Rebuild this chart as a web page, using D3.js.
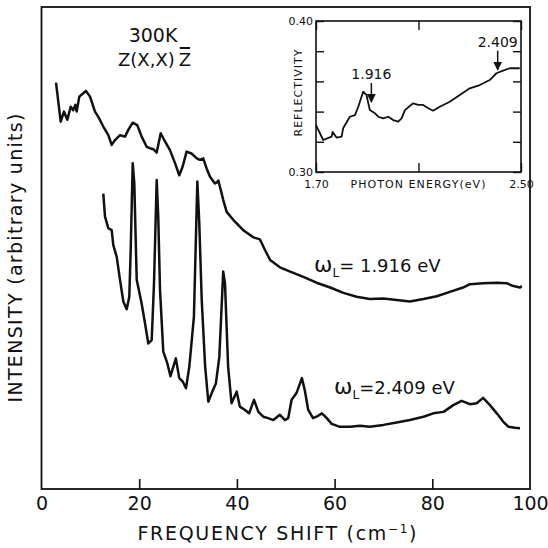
<!DOCTYPE html>
<html>
<head>
<meta charset="utf-8">
<script src="https://cdn.jsdelivr.net/npm/d3@7"></script>
<style>
  body { margin: 0; background: #fff; }
  text { font-family: "DejaVu Sans", sans-serif; fill: #111; }
</style>
</head>
<body>
<svg id="chart" width="548" height="548"></svg>
<script>
// raman spectrum, laser at 1.916 eV (upper trace)
const shiftA = [2.97, 3.93, 4.6, 5.29, 5.97, 6.5, 6.93, 7.2, 7.74, 8.56, 9.1, 9.93, 10.95, 11.63, 12.65,
  13.68, 14.37, 15.05, 16.07, 17.09, 17.77, 18.67, 19.6, 20.5, 21.53, 22.2, 22.9, 23.58, 24.4, 25.28,
  26.3, 27.33, 28.2, 28.9, 29.7, 30.7, 31.8, 32.4, 33.1, 33.8, 34.5, 35.5, 35.9, 36.2, 37.2, 37.9,
  39.3, 41.3, 43.4, 44.7, 45.75, 46.8, 48.8, 50.9, 53.6, 56.3, 59.1, 61.8, 64.5, 67.2, 70.0, 72.7,
  75.4, 78.2, 80.9, 83.6, 86.3, 87.7, 90.4, 93.2, 95.2, 96.6, 97.95, 98.3];
const intensityA = [84.3, 76.2, 78.3, 76.6, 79.3, 78.6, 79.7, 78.3, 81.4, 82.1, 82.6, 81.4, 78.3, 77.2, 75.2,
  73.4, 71.4, 72.4, 73.4, 73.1, 74.5, 76.0, 75.5, 73.1, 71.0, 70.7, 70.5, 69.8, 73.8, 72.1,
  70.3, 67.6, 65.1, 66.9, 70.0, 69.6, 68.6, 68.3, 68.6, 66.5, 64.8, 63.4, 63.6, 64.0, 60.0, 57.5,
  55.8, 53.7, 52.2, 51.8, 49.6, 47.5, 46.0, 45.1, 44.0, 42.8, 41.8, 40.7, 39.9, 39.4, 39.5, 39.2,
  38.9, 39.4, 40.0, 40.9, 41.8, 42.5, 42.7, 42.8, 42.7, 42.1, 41.8, 42.1];

// raman spectrum, laser at 2.409 eV (lower trace)
const shiftB = [12.65, 13.0, 13.68, 14.37, 14.7, 15.39, 16.07, 16.75, 17.44, 17.97, 18.26, 18.67, 19.0,
  19.49, 20.5, 21.19, 21.86, 22.56, 23.03, 23.58, 23.9, 24.26, 24.93, 25.75, 26.4, 27.5, 28.2, 28.9,
  29.58, 30.26, 31.2, 31.9, 32.3, 32.8, 33.5, 34.15, 34.84, 35.7, 36.4, 37.2, 37.56, 38.2, 38.9,
  39.96, 40.6, 41.66, 42.5, 43.5, 44.4, 45.4, 46.4, 47.45, 48.8, 49.85, 50.5, 51.2, 52.2, 53.3,
  53.9, 54.6, 55.6, 56.3, 57.4, 58.4, 59.4, 61.1, 63.2, 65.2, 67.2, 70.0, 72.7, 75.4, 78.2, 80.2,
  82.3, 84.3, 86.0, 87.7, 89.1, 90.4, 91.8, 93.2, 94.5, 95.6, 96.9, 97.95];
const intensityB = [61.3, 56.5, 54.1, 53.7, 50.6, 48.2, 43.4, 38.9, 37.3, 39.9, 49.6, 67.6, 63.4,
  43.4, 38.5, 34.4, 30.2, 30.9, 42.7, 64.1, 56.5, 41.3, 28.5, 26.1, 23.4, 27.1, 23.0, 22.3,
  20.9, 25.4, 35.7, 63.8, 55.1, 39.2, 25.4, 18.1, 19.9, 21.9, 27.4, 45.1, 42.7, 25.4, 17.8,
  20.2, 17.1, 16.4, 15.7, 18.5, 16.0, 15.0, 14.7, 14.3, 15.4, 14.3, 14.7, 18.5, 19.9, 23.0,
  20.5, 16.4, 14.7, 15.0, 15.7, 14.7, 13.5, 12.9, 12.9, 13.1, 12.9, 13.3, 13.8, 14.3, 15.0, 15.7,
  16.0, 17.4, 18.3, 17.6, 17.8, 18.9, 17.4, 15.7, 14.0, 12.9, 12.7, 12.6];

// inset: reflectivity vs photon energy
const energy = [1.70, 1.728, 1.761, 1.765, 1.78, 1.80, 1.806, 1.832, 1.852, 1.865, 1.884, 1.897, 1.910,
  1.93, 1.943, 1.962, 1.982, 2.001, 2.021, 2.034, 2.047, 2.079, 2.099, 2.118, 2.138, 2.157, 2.183,
  2.222, 2.261, 2.30, 2.339, 2.378, 2.404, 2.43, 2.456, 2.495];
const reflectivity = [0.3311, 0.3212, 0.3234, 0.3265, 0.3228, 0.3234, 0.329, 0.3366, 0.3377, 0.3432, 0.3532,
  0.351, 0.341, 0.3389, 0.3366, 0.3355, 0.3366, 0.3344, 0.3333, 0.3355, 0.341, 0.3455, 0.3444, 0.3444,
  0.3422, 0.3406, 0.3432, 0.3465, 0.351, 0.3554, 0.3576, 0.3609, 0.3654, 0.3671, 0.3687, 0.3687];

const xTicks = [0, 20, 40, 60, 80, 100];
const insetXTicks = [1.70, 2.10, 2.50];
const insetXLabels = ["1.70", "", "2.50"];
const insetYTicks = [0.30, 0.32, 0.34, 0.36, 0.38, 0.40];
const insetYLabels = ["0.30", "", "", "", "", "0.40"];
const markedEnergies = [1.916, 2.409];

var svg = d3.select("#chart");

// main frame
var x = d3.scaleLinear().domain([0, 100]).range([41.5, 530]);
var y = d3.scaleLinear().domain([0, 100]).range([489, 7]);

svg.append("rect")
    .attr("x", x(0)).attr("y", y(100))
    .attr("width", x(100) - x(0)).attr("height", y(0) - y(100))
    .attr("fill", "none").attr("stroke", "#111").attr("stroke-width", 1.8);

var xAxis = svg.append("g")
    .attr("transform", "translate(0," + y(0) + ")")
    .call(d3.axisBottom(x).tickValues(xTicks).tickSize(-10).tickPadding(8).tickFormat(d3.format("d")));
xAxis.select(".domain").remove();
xAxis.selectAll(".tick line").attr("stroke", "#111").attr("stroke-width", 1.6)
    .filter(d => d === 0 || d === 100).remove();
xAxis.selectAll(".tick text")
    .style("font-family", "DejaVu Sans, sans-serif").style("font-size", "19px").attr("fill", "#111");

// axis titles
var xt = svg.append("text")
    .attr("x", 277).attr("y", 540)
    .attr("text-anchor", "middle")
    .style("font-size", "19px")
    .attr("textLength", 279).attr("lengthAdjust", "spacing");
xt.append("tspan").text("FREQUENCY SHIFT (cm");
xt.append("tspan").attr("dy", -7).style("font-size", "12px").text("−1");
xt.append("tspan").attr("dy", 7).text(")");

svg.append("text")
    .attr("transform", "translate(22,258) rotate(-90)")
    .attr("text-anchor", "middle")
    .style("font-size", "19px")
    .attr("textLength", 289).attr("lengthAdjust", "spacing")
    .text("INTENSITY (arbitrary units)");

// spectra
var line = d3.line().x(d => x(d[0])).y(d => y(d[1]));

svg.append("path")
    .datum(d3.zip(shiftA, intensityA))
    .attr("d", line)
    .attr("fill", "none").attr("stroke", "#111").attr("stroke-width", 2.5)
    .attr("stroke-linejoin", "round");

svg.append("path")
    .datum(d3.zip(shiftB, intensityB))
    .attr("d", line)
    .attr("fill", "none").attr("stroke", "#111").attr("stroke-width", 2.5)
    .attr("stroke-linejoin", "round");

// labels in the main plot
svg.append("text").attr("x", 153).attr("y", 42).attr("text-anchor", "middle")
    .style("font-size", "19px").text("300K");

var geo = svg.append("text").attr("x", 118).attr("y", 66).style("font-size", "18px");
geo.append("tspan").text("Z(X,X)");
var zbar = geo.append("tspan").attr("dx", 4).text("Z");
var zb = zbar.node().getExtentOfChar(0);
svg.append("line")
    .attr("x1", zb.x + 1).attr("x2", zb.x + zb.width - 1)
    .attr("y1", zb.y - 1).attr("y2", zb.y - 1)
    .attr("stroke", "#111").attr("stroke-width", 2);

function laserLabel(px, py, text) {
    var t = svg.append("text").attr("x", px).attr("y", py).style("font-size", "18px");
    t.append("tspan").style("font-size", "22px").text("ω");
    t.append("tspan").attr("dy", 5).style("font-size", "12px").text("L");
    t.append("tspan").attr("dy", -5).text(text);
}
laserLabel(314, 272, "= " + markedEnergies[0].toFixed(3) + " eV");
laserLabel(334, 394, "=" + markedEnergies[1].toFixed(3) + " eV");

// inset
var ix = d3.scaleLinear().domain([1.70, 2.50]).range([316, 521]);
var iy = d3.scaleLinear().domain([0.30, 0.40]).range([172, 21]);

svg.append("rect")
    .attr("x", ix(1.70)).attr("y", iy(0.40))
    .attr("width", ix(2.50) - ix(1.70)).attr("height", iy(0.30) - iy(0.40))
    .attr("fill", "#fff").attr("stroke", "#111").attr("stroke-width", 1.6);

function insetAxis(g) {
    g.select(".domain").remove();
    g.selectAll(".tick line").attr("stroke", "#111").attr("stroke-width", 1.4);
    g.selectAll(".tick text").style("font-family", "DejaVu Sans, sans-serif").style("font-size", "11px").attr("fill", "#111");
}

svg.append("g").attr("transform", "translate(0," + iy(0.30) + ")")
    .call(d3.axisBottom(ix).tickValues(insetXTicks).tickSize(-9).tickPadding(8).tickFormat((d, i) => insetXLabels[i]))
    .call(insetAxis);
svg.append("g").attr("transform", "translate(0," + iy(0.40) + ")")
    .call(d3.axisTop(ix).tickValues(insetXTicks).tickSize(-9).tickFormat(""))
    .call(insetAxis);
svg.append("g").attr("transform", "translate(" + ix(1.70) + ",0)")
    .call(d3.axisLeft(iy).tickValues(insetYTicks).tickSize(-8).tickPadding(3).tickFormat((d, i) => insetYLabels[i]))
    .call(insetAxis);
svg.append("g").attr("transform", "translate(" + ix(2.50) + ",0)")
    .call(d3.axisRight(iy).tickValues(insetYTicks).tickSize(-8).tickFormat(""))
    .call(insetAxis);

svg.append("text").attr("x", 418).attr("y", 188).attr("text-anchor", "middle")
    .style("font-size", "11px").attr("textLength", 135).attr("lengthAdjust", "spacing")
    .text("PHOTON ENERGY(eV)");
svg.append("text").attr("transform", "translate(302,93) rotate(-90)").attr("text-anchor", "middle")
    .style("font-size", "11px").attr("textLength", 87).attr("lengthAdjust", "spacing")
    .text("REFLECTIVITY");

var iline = d3.line().x(d => ix(d[0])).y(d => iy(d[1]));
svg.append("path")
    .datum(d3.zip(energy, reflectivity))
    .attr("d", iline)
    .attr("fill", "none").attr("stroke", "#111").attr("stroke-width", 1.8)
    .attr("stroke-linejoin", "round");

// arrows pointing at the two laser energies
svg.append("defs").append("marker")
    .attr("id", "head").attr("viewBox", "0 0 10 10")
    .attr("refX", 9).attr("refY", 5)
    .attr("markerWidth", 6).attr("markerHeight", 6)
    .attr("orient", "auto")
    .append("path").attr("d", "M0,0L10,5L0,10z").attr("fill", "#111");

var reflAt = d3.scaleLinear().domain(energy).range(reflectivity);
markedEnergies.forEach(function(e) {
    var tipY = iy(reflAt(e)) - (e < 2 ? 9 : 3);
    svg.append("line")
        .attr("x1", ix(e)).attr("x2", ix(e))
        .attr("y1", tipY - 19).attr("y2", tipY)
        .attr("stroke", "#111").attr("stroke-width", 1.5)
        .attr("marker-end", "url(#head)");
    svg.append("text")
        .attr("x", ix(e)).attr("y", tipY - 23)
        .attr("text-anchor", "middle")
        .style("font-size", "14px")
        .text(e.toFixed(3));
});
</script>
</body>
</html>
